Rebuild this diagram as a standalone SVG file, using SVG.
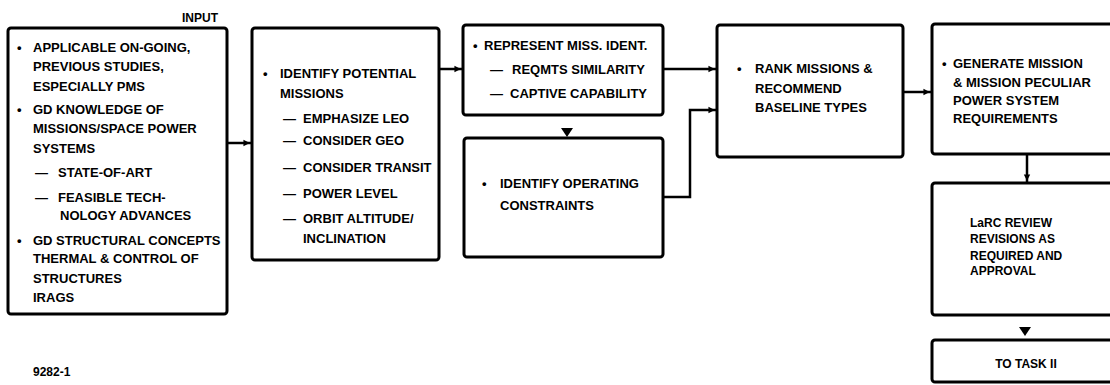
<svg xmlns="http://www.w3.org/2000/svg" width="1110" height="385" viewBox="0 0 1110 385">
<defs>
<style>
.box{fill:#fff;stroke:#000;stroke-width:3}
.t{font-family:"Liberation Sans",Arial,sans-serif;font-weight:bold;font-size:13px;fill:#000}
.s{font-size:12px}
.c{fill:none;stroke:#000;stroke-width:2.5}
.h{fill:#000}
</style>
<marker id="ah" markerUnits="userSpaceOnUse" markerWidth="10" markerHeight="10" refX="12" refY="4.5" orient="auto" viewBox="0 0 14 9" overflow="visible">
<path d="M0,0 L9,4.5 L0,9 z" fill="#000"/>
</marker>
</defs>
<rect width="1110" height="385" fill="#fff"/>
<g id="connectors">
<path class="c" d="M227,143 H252" marker-end="url(#ah)"/>
<path class="c" d="M439,69 H463" marker-end="url(#ah)"/>
<path class="c" d="M663,69 H717" marker-end="url(#ah)"/>
<polygon class="h" points="561,128 573,128 567,137"/>
<path class="c" d="M663,197 H690 V110 H717" marker-end="url(#ah)"/>
<path class="c" d="M903,92 H932" marker-end="url(#ah)"/>
<path class="c" d="M1027,154 V183" marker-end="url(#ah)"/>
<polygon class="h" points="1019,327 1031,327 1025,336"/>
</g>
<g id="input">
<text class="t s" x="182" y="22">INPUT</text>
<rect class="box" x="8" y="28" width="219" height="286" rx="3"/>
<text class="t" x="17" y="52">•</text>
<text class="t" x="33" y="52">APPLICABLE ON-GOING,</text>
<text class="t" x="33" y="71">PREVIOUS STUDIES,</text>
<text class="t" x="33" y="91">ESPECIALLY PMS</text>
<text class="t" x="17" y="114">•</text>
<text class="t" x="33" y="114">GD KNOWLEDGE OF</text>
<text class="t" x="33" y="133">MISSIONS/SPACE POWER</text>
<text class="t" x="33" y="153">SYSTEMS</text>
<text class="t" x="35" y="177">—</text>
<text class="t" x="58" y="177">STATE-OF-ART</text>
<text class="t" x="35" y="202">—</text>
<text class="t" x="58" y="202">FEASIBLE TECH-</text>
<text class="t" x="60" y="220">NOLOGY ADVANCES</text>
<text class="t" x="17" y="245">•</text>
<text class="t" x="33" y="245">GD STRUCTURAL CONCEPTS</text>
<text class="t" x="33" y="263">THERMAL &amp; CONTROL OF</text>
<text class="t" x="33" y="283">STRUCTURES</text>
<text class="t" x="33" y="302">IRAGS</text>
</g>
<g id="identify-missions">
<rect class="box" x="252" y="28" width="187" height="232" rx="3"/>
<text class="t" x="263" y="78">•</text>
<text class="t" x="280" y="78">IDENTIFY POTENTIAL</text>
<text class="t" x="280" y="98">MISSIONS</text>
<text class="t" x="283" y="123">—</text>
<text class="t" x="303" y="123">EMPHASIZE LEO</text>
<text class="t" x="283" y="145">—</text>
<text class="t" x="303" y="145">CONSIDER GEO</text>
<text class="t" x="283" y="172">—</text>
<text class="t" x="303" y="172">CONSIDER TRANSIT</text>
<text class="t" x="283" y="198">—</text>
<text class="t" x="303" y="198">POWER LEVEL</text>
<text class="t" x="283" y="223">—</text>
<text class="t" x="303" y="223">ORBIT ALTITUDE/</text>
<text class="t" x="303" y="243">INCLINATION</text>
</g>
<g id="represent">
<rect class="box" x="463" y="25" width="200" height="90" rx="3"/>
<text class="t" x="473" y="50">•</text>
<text class="t" x="484" y="50">REPRESENT MISS. IDENT.</text>
<text class="t" x="490" y="74">—</text>
<text class="t" x="512" y="74">REQMTS SIMILARITY</text>
<text class="t" x="490" y="98">—</text>
<text class="t" x="510" y="98">CAPTIVE CAPABILITY</text>
</g>
<g id="constraints">
<rect class="box" x="464" y="138" width="199" height="119" rx="3"/>
<text class="t" x="482" y="188">•</text>
<text class="t" x="500" y="188">IDENTIFY OPERATING</text>
<text class="t" x="500" y="210">CONSTRAINTS</text>
</g>
<g id="rank">
<rect class="box" x="717" y="25" width="186" height="132" rx="3"/>
<text class="t" x="737" y="73">•</text>
<text class="t" x="755" y="73">RANK MISSIONS &amp;</text>
<text class="t" x="755" y="93">RECOMMEND</text>
<text class="t" x="755" y="112">BASELINE TYPES</text>
</g>
<g id="generate">
<rect class="box" x="932" y="24" width="200" height="130" rx="3"/>
<text class="t" x="942" y="68">•</text>
<text class="t" x="953" y="68">GENERATE MISSION</text>
<text class="t" x="953" y="87">&amp; MISSION PECULIAR</text>
<text class="t" x="953" y="105">POWER SYSTEM</text>
<text class="t" x="953" y="123">REQUIREMENTS</text>
</g>
<g id="review">
<rect class="box" x="932" y="183" width="200" height="132" rx="3"/>
<text class="t s" x="970" y="227">LaRC REVIEW</text>
<text class="t s" x="970" y="243">REVISIONS AS</text>
<text class="t s" x="970" y="260">REQUIRED AND</text>
<text class="t s" x="970" y="275">APPROVAL</text>
</g>
<g id="task">
<rect class="box" x="932" y="340" width="200" height="42" rx="3"/>
<text class="t s" x="1026" y="368" text-anchor="middle">TO TASK II</text>
</g>
<text class="t s" x="33" y="376">9282-1</text>
</svg>
